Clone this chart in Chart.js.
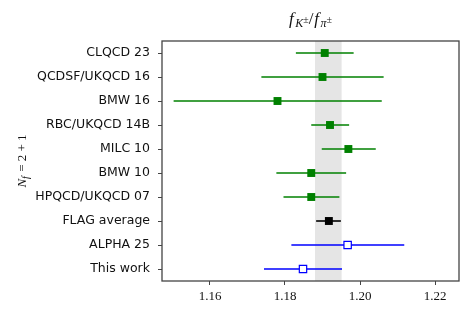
<!DOCTYPE html>
<html>
<head>
<meta charset="utf-8">
<script src="https://cdn.jsdelivr.net/npm/chart.js@4"></script>
<style>
html,body{margin:0;padding:0;background:#fff;}
#wrap{width:476px;height:317px;}
</style>
</head>
<body>
<div id="wrap"><canvas id="c" width="476" height="317"></canvas></div>
<script>
// ---- data ----
const categories = ["CLQCD 23","QCDSF/UKQCD 16","BMW 16","RBC/UKQCD 14B","MILC 10","BMW 10","HPQCD/UKQCD 07","FLAG average","ALPHA 25","This work"];
const values     = [1.1906, 1.1900, 1.1780, 1.1920, 1.1969, 1.1870, 1.1870, 1.1917, 1.1967, 1.1848];
const errLow     = [0.0077, 0.0163, 0.0277, 0.0050, 0.0071, 0.0093, 0.0074, 0.0034, 0.0150, 0.0104];
const errHigh    = [0.0077, 0.0163, 0.0278, 0.0051, 0.0073, 0.0093, 0.0075, 0.0032, 0.0151, 0.0104];
const groups     = ["nf3","nf3","nf3","nf3","nf3","nf3","nf3","flag","new","new"];
const xTicks     = [1.16, 1.18, 1.20, 1.22];
const bandRange  = [1.1880, 1.1951];

const styles = {
  nf3:  {color:"#008000", fill:"#008000"},
  flag: {color:"#000000", fill:"#000000"},
  new:  {color:"#0000ff", fill:"#ffffff"}
};

const datasets = [];
// error bars as two-point line datasets
categories.forEach((name,i)=>{
  const st = styles[groups[i]];
  datasets.push({
    type:'line',
    data:[{x:values[i]-errLow[i], y:i},{x:values[i]+errHigh[i], y:i}],
    borderColor:st.color, borderWidth:1.6, pointRadius:0, fill:false, order:2
  });
});
// markers per group
["nf3","flag","new"].forEach(g=>{
  const st = styles[g];
  const pts = [];
  categories.forEach((n,i)=>{ if(groups[i]===g) pts.push({x:values[i], y:i}); });
  datasets.push({
    type:'scatter',
    data:pts,
    pointStyle:'rect',
    pointRadius: g==='new'?5.2:5.6,
    pointBackgroundColor:st.fill,
    pointBorderColor:st.color,
    pointBorderWidth: g==='new'?1.2:0,
    order:1
  });
});

const bandPlugin = {
  id:'band',
  beforeDatasetsDraw(chart){
    const {ctx, chartArea:a, scales:{x}} = chart;
    const x0 = x.getPixelForValue(bandRange[0]);
    const x1 = x.getPixelForValue(bandRange[1]);
    ctx.save();
    ctx.fillStyle = '#e5e5e5';
    ctx.fillRect(x0, a.top, x1-x0, a.bottom-a.top);
    ctx.restore();
  },
  afterDraw(chart){
    const {ctx, chartArea:a} = chart;
    ctx.save();
    ctx.strokeStyle = '#444';
    ctx.lineWidth = 1.3;
    ctx.strokeRect(a.left, a.top, a.right-a.left, a.bottom-a.top);
    // title f_{K±}/f_{π±}
    ctx.fillStyle = '#111';
    ctx.textBaseline = 'alphabetic';
    const cx = (a.left+a.right)/2;
    const y = 24;
    const big = 'italic 17px "Liberation Serif", serif';
    const small = 'italic 12px "Liberation Serif", serif';
    const smallN = '10px "Liberation Serif", serif';
    const parts = [
      {t:'f', f:big, dy:0},
      {t:'K', f:small, dy:3},
      {t:'±', f:smallN, dy:-1},
      {t:'/', f:'17px "Liberation Serif", serif', dy:0},
      {t:'f', f:big, dy:0},
      {t:'π', f:small, dy:3},
      {t:'±', f:smallN, dy:-1}
    ];
    let w = 0;
    parts.forEach(p=>{ctx.font=p.f; p.w = ctx.measureText(p.t).width + (p.t==='f'?1.5:0) + (p.t==='/'?1:0); w+=p.w;});
    let xx = cx - w/2;
    parts.forEach(p=>{ctx.font=p.f; ctx.fillText(p.t, xx, y+p.dy); xx+=p.w;});
    // y label N_f = 2+1
    ctx.translate(26, (a.top+a.bottom)/2);
    ctx.rotate(-Math.PI/2);
    const yparts = [
      {t:'N', f:'italic 13px "Liberation Serif", serif', dy:0},
      {t:'f', f:'italic 10px "Liberation Serif", serif', dy:3},
      {t:' = 2 + 1', f:'13px "Liberation Serif", serif', dy:0}
    ];
    w = 0;
    yparts.forEach(p=>{ctx.font=p.f; p.w=ctx.measureText(p.t).width + (p.t==='f'?1:0); w+=p.w;});
    xx = -w/2;
    yparts.forEach(p=>{ctx.font=p.f; ctx.fillText(p.t, xx, p.dy); xx+=p.w;});
    ctx.restore();
  }
};

new Chart(document.getElementById('c'), {
  data:{datasets},
  options:{
    responsive:false,
    animation:false,
    layout:{padding:{top:41, right:17, left:0, bottom:0}},
    plugins:{legend:{display:false}, tooltip:{enabled:false}},
    scales:{
      x:{
        type:'linear', min:1.1472, max:1.2264,
        afterBuildTicks(s){ s.ticks = xTicks.map(v=>({value:v})); },
        afterFit(s){ s.height = 36; },
        ticks:{callback:(v)=>v.toFixed(2), color:'#111', font:{family:'"Liberation Serif", serif', size:13}, padding:4, maxRotation:0, autoSkip:false},
        grid:{drawOnChartArea:false, drawTicks:true, tickLength:4, color:'#444'},
        border:{display:false}
      },
      y:{
        type:'linear', min:-0.5, max:9.5, reverse:true,
        afterBuildTicks(s){ s.ticks = categories.map((_,i)=>({value:i})); },
        afterFit(s){ s.width = 162; },
        ticks:{callback:(v)=>categories[v], color:'#111', font:{family:'"DejaVu Sans", sans-serif', size:12.5}, padding:8, autoSkip:false},
        grid:{drawOnChartArea:false, drawTicks:true, tickLength:4, color:'#444'},
        border:{display:false}
      }
    }
  },
  plugins:[bandPlugin]
});
</script>
</body>
</html>
